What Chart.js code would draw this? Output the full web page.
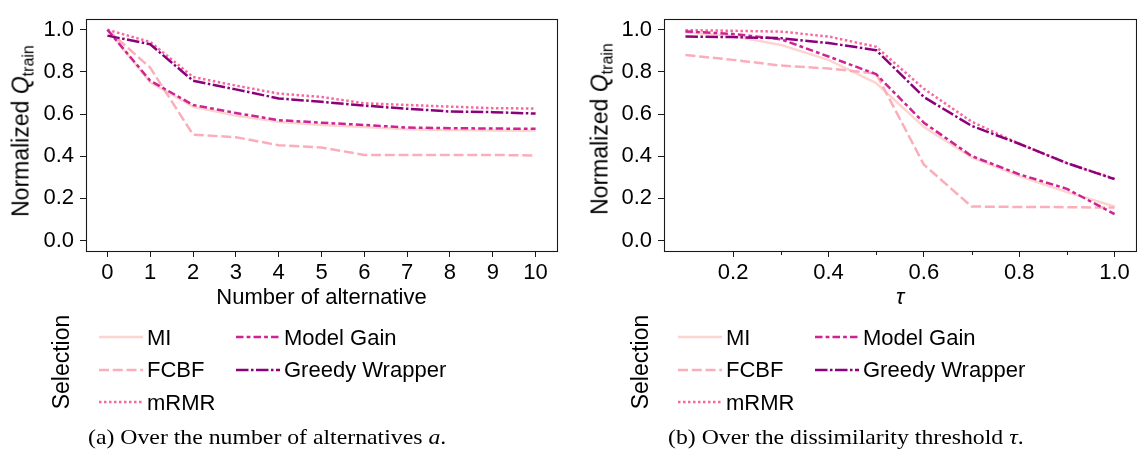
<!DOCTYPE html>
<html><head><meta charset="utf-8">
<script src="https://cdn.jsdelivr.net/npm/chart.js@4.4.0/dist/chart.umd.min.js"></script>
<style>
html,body{margin:0;padding:0;background:#fff;}
body{width:1137px;height:454px;overflow:hidden;position:relative;font-family:"Liberation Sans",Arial,sans-serif;color:#000;}
.cv{position:absolute;top:0;}
.abs{position:absolute;white-space:nowrap;}
.rot{transform:translate(-50%,-50%) rotate(-90deg);}
.ytitle{font-size:23px;line-height:1;}
.sel{font-size:23px;line-height:1;}
.leg{font-size:22px;line-height:1;}
.cap{font-family:"Liberation Serif","Times New Roman",serif;font-size:22px;line-height:1;transform-origin:0 50%;transform:scaleX(1.08);}
</style>
</head><body>
<div id="wrapA" class="cv" style="left:0;width:575px;height:320px;"><canvas id="chA"></canvas></div>
<div id="wrapB" class="cv" style="left:578px;width:559px;height:320px;"><canvas id="chB"></canvas></div>
<div id="overlay"></div>
<script>
// ---------- data ----------
const seriesNames = ['MI', 'FCBF', 'mRMR', 'Model Gain', 'Greedy Wrapper'];
const seriesColors = ['#fdd4cf', '#fbaeb9', '#f768a1', '#ce2391', '#8b0179'];
const seriesDash = [[], [4, 1.5], [1, 1], [3, 1.25, 1.5, 1.25], [5, 1, 1, 1]]; // in line-width units

// (a) over the number of alternatives
const alternatives = [0, 1, 2, 3, 4, 5, 6, 7, 8, 9, 10];
const altMI    = [1.00, 0.75, 0.635, 0.593, 0.563, 0.548, 0.539, 0.528, 0.524, 0.522, 0.521];
const altFCBF  = [1.00, 0.82, 0.502, 0.490, 0.452, 0.441, 0.406, 0.406, 0.406, 0.406, 0.403];
const altMRMR  = [1.00, 0.942, 0.776, 0.735, 0.697, 0.681, 0.651, 0.643, 0.635, 0.628, 0.626];
const altMG    = [1.00, 0.758, 0.643, 0.605, 0.571, 0.559, 0.548, 0.536, 0.533, 0.531, 0.530];
const altGW    = [0.972, 0.931, 0.758, 0.717, 0.674, 0.658, 0.640, 0.625, 0.612, 0.609, 0.602];

// (b) over the dissimilarity threshold tau
const taus = [0.1, 0.2, 0.3, 0.4, 0.5, 0.6, 0.7, 0.8, 0.9, 1.0];
const tauMI   = [0.988, 0.970, 0.928, 0.857, 0.747, 0.539, 0.395, 0.306, 0.230, 0.161];
const tauFCBF = [0.880, 0.857, 0.830, 0.816, 0.792, 0.360, 0.161, 0.159, 0.158, 0.156];
const tauMRMR = [0.998, 0.995, 0.991, 0.968, 0.919, 0.720, 0.564, 0.459, 0.367, 0.293];
const tauMG   = [0.992, 0.980, 0.955, 0.873, 0.789, 0.559, 0.401, 0.314, 0.245, 0.125];
const tauGW   = [0.968, 0.965, 0.960, 0.937, 0.903, 0.681, 0.544, 0.459, 0.367, 0.291];

const yTicks = [0.0, 0.2, 0.4, 0.6, 0.8, 1.0];
const altTicks = alternatives;
const tauMajorTicks = [0.2, 0.4, 0.6, 0.8, 1.0];
const tauMinorTicks = [0.3, 0.5, 0.7, 0.9];

// ---------- styling ----------
const LW = 2.5;
const FONT = '"Liberation Sans", Arial, sans-serif';
const TICK_SIZE = 22;
const AX = '#1a1a1a';

function makeDatasets(xs, cols) {
  return cols.map((ys, i) => ({
    label: seriesNames[i],
    data: xs.map((x, j) => ({x: x, y: ys[j]})),
    borderColor: seriesColors[i],
    backgroundColor: seriesColors[i],
    borderWidth: LW,
    borderDash: seriesDash[i].map(d => d * LW),
    borderCapStyle: 'butt',
    borderJoinStyle: 'round',
    pointRadius: 0,
    tension: 0,
    fill: false,
    order: cols.length - 1 - i
  }));
}

const framePlugin = {
  id: 'frame',
  afterDraw(chart) {
    const {ctx, chartArea: a} = chart;
    ctx.save();
    ctx.strokeStyle = AX;
    ctx.lineWidth = 1.1;
    ctx.strokeRect(Math.round(a.left) + 0.5, Math.round(a.top) + 0.5,
                   Math.round(a.right - a.left), Math.round(a.bottom - a.top));
    const minors = chart.options.plugins.frame && chart.options.plugins.frame.minorTicks;
    if (minors) {
      const xs = chart.scales.x;
      ctx.lineWidth = 1;
      ctx.beginPath();
      minors.forEach(v => {
        const px = Math.round(xs.getPixelForValue(v)) + 0.5;
        ctx.moveTo(px, Math.round(a.bottom) + 0.5);
        ctx.lineTo(px, Math.round(a.bottom) + 4);
      });
      ctx.stroke();
    }
    ctx.restore();
  }
};

function makeChart(id, xs, cols, xmin, xmax, xTickVals, xTitle, xTitleItalic, minorTicks, padRight, xfmt) {
  const ctx = document.getElementById(id);
  return new Chart(ctx, {
    type: 'line',
    data: {datasets: makeDatasets(xs, cols)},
    plugins: [framePlugin],
    options: {
      responsive: true,
      maintainAspectRatio: false,
      animation: false,
      events: [],
      layout: {padding: {left: 0, top: 11, right: padRight, bottom: 0}},
      plugins: {
        legend: {display: false},
        tooltip: {enabled: false},
        frame: {minorTicks: minorTicks}
      },
      scales: {
        x: {
          type: 'linear',
          min: xmin, max: xmax,
          afterBuildTicks: s => { s.ticks = xTickVals.map(v => ({value: v})); },
          afterFit: s => { s.height = 69; },
          grid: {drawOnChartArea: false, drawTicks: true, tickLength: 6, tickColor: AX, tickWidth: 1},
          border: {display: false},
          ticks: {color: '#000', font: {family: FONT, size: TICK_SIZE}, padding: 3, maxRotation: 0, autoSkip: false,
                  callback: v => xfmt(v)},
          title: {display: true, text: xTitle, color: '#000', padding: {top: 0, bottom: 9},
                  font: {family: FONT, size: 22, style: xTitleItalic ? 'italic' : 'normal'}}
        },
        y: {
          type: 'linear',
          min: -0.05, max: 1.05,
          afterBuildTicks: s => { s.ticks = yTicks.map(v => ({value: v})); },
          afterFit: s => { s.width = 86; },
          grid: {drawOnChartArea: false, drawTicks: true, tickLength: 6, tickColor: AX, tickWidth: 1},
          border: {display: false},
          ticks: {color: '#000', font: {family: FONT, size: TICK_SIZE}, padding: 6, autoSkip: false,
                  callback: v => Number(v).toFixed(1)},
          title: {display: false}
        }
      }
    }
  });
}

makeChart('chA', alternatives, [altMI, altFCBF, altMRMR, altMG, altGW], -0.5, 10.5, altTicks,
          'Number of alternative', false, null, 18, v => String(Math.round(v)));
makeChart('chB', taus, [tauMI, tauFCBF, tauMRMR, tauMG, tauGW], 0.055, 1.045, tauMajorTicks,
          'τ', true, tauMinorTicks, 1, v => Number(v).toFixed(1));

// ---------- overlay text: y titles, legends, captions ----------
const ov = document.getElementById('overlay');
function add(html, cls, style) {
  const d = document.createElement('div');
  d.className = 'abs ' + cls;
  d.innerHTML = html;
  Object.assign(d.style, style);
  ov.appendChild(d);
  return d;
}
const yTitleHTML = 'Normalized <i>Q</i><sub style="font-size:16px;vertical-align:-5px;">train</sub>';
add(yTitleHTML, 'ytitle rot', {left: '23px', top: '131px'});
add(yTitleHTML, 'ytitle rot', {left: '602px', top: '129px'});

function legend(offsetX) {
  add('Selection', 'sel rot', {left: (61 + offsetX) + 'px', top: '362px'});
  const rowsY = [337, 369.5, 402];
  const colX = [99, 236];
  seriesNames.forEach((name, i) => {
    const col = Math.floor(i / 3), row = i % 3;
    const lx = colX[col] + offsetX, ly = rowsY[row];
    const dash = seriesDash[i].map(d => d * LW).join(',');
    add('<svg width="44" height="10" style="display:block"><line x1="0" y1="5" x2="44" y2="5" stroke="' +
        seriesColors[i] + '" stroke-width="' + LW + '"' + (dash ? ' stroke-dasharray="' + dash + '"' : '') +
        '/></svg>', '', {left: lx + 'px', top: (ly - 5) + 'px'});
    add(name, 'leg', {left: (lx + 48) + 'px', top: (ly - 10.5) + 'px'});
  });
}
legend(0);
legend(579);

add('(a) Over the number of alternatives <i>a</i>.', 'cap', {left: '88px', top: '426px'});
add('(b) Over the dissimilarity threshold <i>τ</i>.', 'cap', {left: '668px', top: '426px'});
</script>
</body></html>
